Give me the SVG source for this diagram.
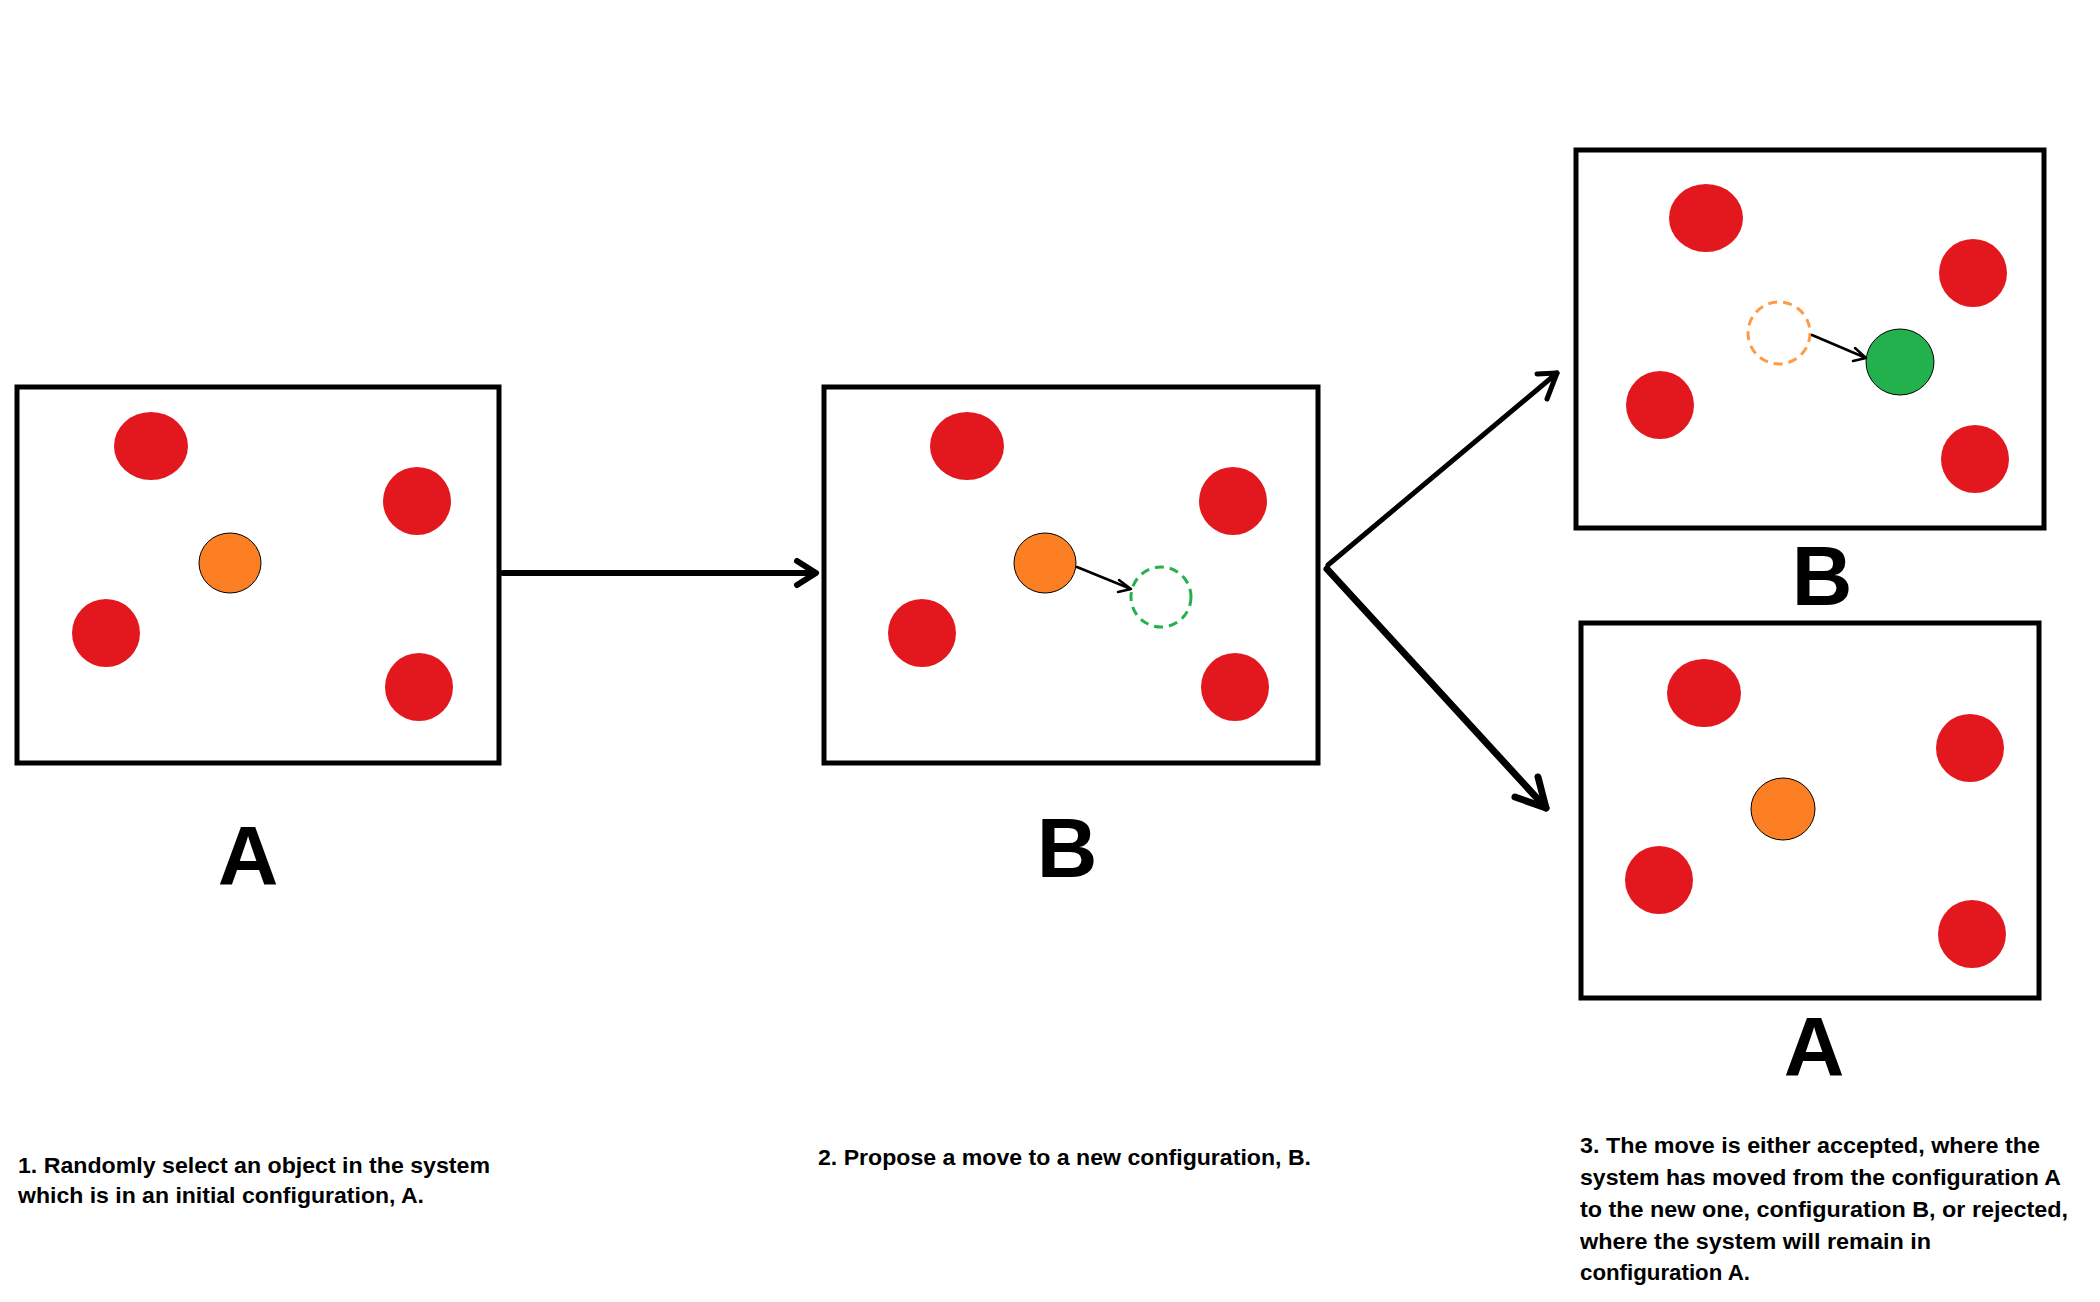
<svg xmlns="http://www.w3.org/2000/svg" width="2100" height="1302" viewBox="0 0 2100 1302">
<defs>
<style>
.box{fill:#fff;stroke:#000;stroke-width:5}
.red{fill:#e3171e}
.org{fill:#fd7f23;stroke:#000;stroke-width:1}
.grn{fill:#22b14c;stroke:#000;stroke-width:1}
.dg{fill:none;stroke:#22b14c;stroke-width:3;stroke-dasharray:9 6}
.do{fill:none;stroke:#ff9a45;stroke-width:3;stroke-dasharray:9 6}
.big{font-family:"Liberation Sans",Arial,sans-serif;font-weight:bold;font-size:84px;text-anchor:middle;fill:#000}
.cap{font-family:"Liberation Sans",Arial,sans-serif;font-weight:bold;font-size:22px;fill:#000}
.conn{fill:none;stroke:#000;stroke-linecap:round;stroke-linejoin:round}
</style>
</defs>
<rect width="2100" height="1302" fill="#fff"/>

<g id="configA1">
<rect class="box" x="17" y="387" width="482" height="376"/>
<ellipse class="red" cx="151" cy="446" rx="37" ry="34"/>
<circle class="red" cx="417" cy="501" r="34"/>
<ellipse class="org" cx="230" cy="563" rx="31" ry="30"/>
<circle class="red" cx="106" cy="633" r="34"/>
<circle class="red" cx="419" cy="687" r="34"/>
<text class="big" x="248" y="885">A</text>
</g>

<g id="configB1">
<rect class="box" x="824" y="387" width="494" height="376"/>
<ellipse class="red" cx="967" cy="446" rx="37" ry="34"/>
<circle class="red" cx="1233" cy="501" r="34"/>
<ellipse class="org" cx="1045" cy="563" rx="31" ry="30"/>
<circle class="dg" cx="1161" cy="597" r="30"/>
<circle class="red" cx="922" cy="633" r="34"/>
<circle class="red" cx="1235" cy="687" r="34"/>
<path class="conn" stroke-width="2.5" d="M1077 567 L1131 589 M1119 580 L1131 589 L1118 592"/>
<text class="big" x="1067" y="877">B</text>
</g>

<g id="configB2">
<rect class="box" x="1576" y="150" width="468" height="378"/>
<ellipse class="red" cx="1706" cy="218" rx="37" ry="34"/>
<circle class="red" cx="1973" cy="273" r="34"/>
<circle class="do" cx="1779" cy="333" r="31"/>
<ellipse class="grn" cx="1900" cy="362" rx="34" ry="33"/>
<circle class="red" cx="1660" cy="405" r="34"/>
<circle class="red" cx="1975" cy="459" r="34"/>
<path class="conn" stroke-width="2.5" d="M1812 335 L1866 358 M1855 348 L1866 358 L1853 361"/>
<text class="big" x="1822" y="605">B</text>
</g>

<g id="configA2">
<rect class="box" x="1581" y="623" width="458" height="375"/>
<ellipse class="red" cx="1704" cy="693" rx="37" ry="34"/>
<circle class="red" cx="1970" cy="748" r="34"/>
<ellipse class="org" cx="1783" cy="809" rx="32" ry="31"/>
<circle class="red" cx="1659" cy="880" r="34"/>
<circle class="red" cx="1972" cy="934" r="34"/>
<text class="big" x="1814" y="1076">A</text>
</g>

<g id="connectors">
<path class="conn" stroke-width="6" stroke-linecap="butt" d="M503 573 L815 573"/>
<path class="conn" stroke-width="6" d="M797 561 L816 573 L797 585"/>
<path class="conn" stroke-width="5" d="M1328 565 L1557 373"/>
<path class="conn" stroke-width="5" d="M1537 374 L1557 373 L1547 399"/>
<path class="conn" stroke-width="7" d="M1327 569 L1546 808"/>
<path class="conn" stroke-width="7" d="M1515 797 L1546 808 L1538 777"/>
</g>

<g id="captions">
<text class="cap" x="18" y="1173" textLength="472" lengthAdjust="spacingAndGlyphs">1. Randomly select an object in the system</text>
<text class="cap" x="18" y="1203" textLength="406" lengthAdjust="spacingAndGlyphs">which is in an initial configuration, A.</text>
<text class="cap" x="818" y="1165" textLength="493" lengthAdjust="spacingAndGlyphs">2. Propose a move to a new configuration, B.</text>
<text class="cap" x="1580" y="1153" textLength="460" lengthAdjust="spacingAndGlyphs">3. The move is either accepted, where the</text>
<text class="cap" x="1580" y="1185" textLength="481" lengthAdjust="spacingAndGlyphs">system has moved from the configuration A</text>
<text class="cap" x="1580" y="1217" textLength="488" lengthAdjust="spacingAndGlyphs">to the new one, configuration B, or rejected,</text>
<text class="cap" x="1580" y="1249" textLength="351" lengthAdjust="spacingAndGlyphs">where the system will remain in</text>
<text class="cap" x="1580" y="1280" textLength="170" lengthAdjust="spacingAndGlyphs">configuration A.</text>
</g>
</svg>
